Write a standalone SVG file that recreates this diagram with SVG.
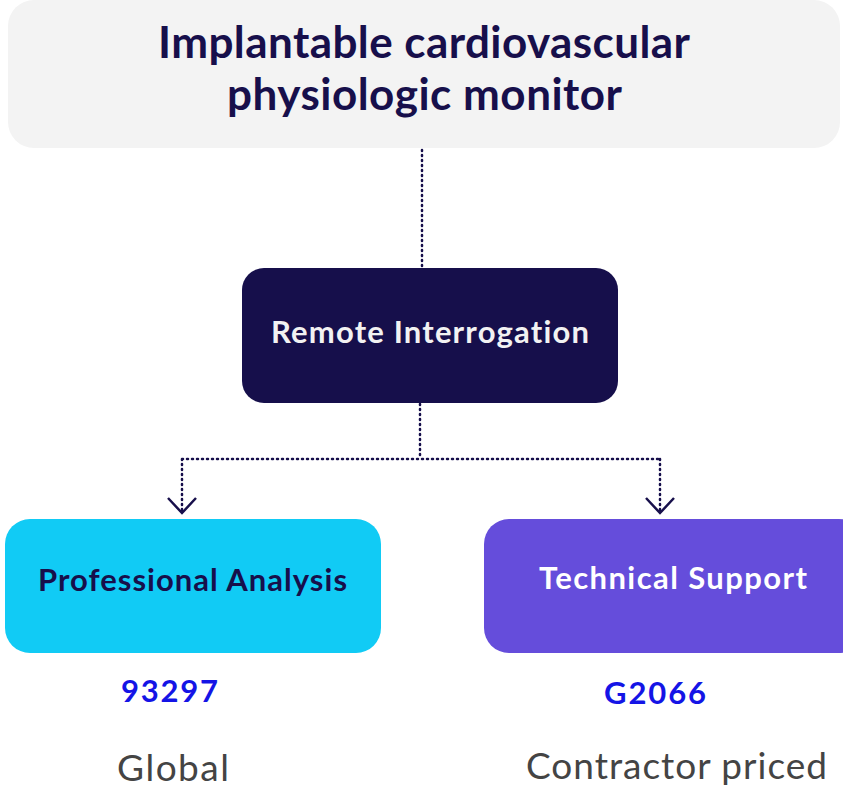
<svg xmlns="http://www.w3.org/2000/svg" width="843" height="789" viewBox="0 0 843 789">
  <defs>
    <style>
      .lbl { font-family: Lato, "Noto Sans", "Liberation Sans", sans-serif; text-anchor: middle; font-variant-ligatures: none; }
      .title { font-size: 44px; font-weight: 700; fill: #170f4b; }
      .node { font-size: 31px; font-weight: 700; }
      .code { font-size: 31px; font-weight: 700; fill: #1414e6; }
      .note { font-size: 37px; font-weight: 400; fill: #444444; }
      .link { fill: none; stroke: #170f4b; stroke-width: 2.5; stroke-dasharray: 1 4; stroke-linecap: round; }
      .head { fill: none; stroke: #170f4b; stroke-width: 2.5; }
    </style>
  </defs>

  <rect width="843" height="789" fill="#ffffff"/>

  <!-- connectors -->
  <g id="connectors">
    <path class="link" d="M422 150 V268"/>
    <path class="link" d="M420 404 V459 M182 459 H660 M182 459 V512 M660 459 V512"/>
    <path class="head" d="M168 498 L182 513 L196 498"/>
    <path class="head" d="M646 498 L660 513 L674 498"/>
  </g>

  <g id="node-monitor">
    <rect x="8" y="0" width="832" height="148" rx="26" fill="#f3f3f3"/>
    <text class="lbl title" x="424" y="58" textLength="532">Implantable cardiovascular</text>
    <text class="lbl title" x="424.5" y="110" textLength="395">physiologic monitor</text>
  </g>

  <g id="node-remote">
    <rect x="242" y="268" width="376" height="135" rx="22" fill="#160f4b"/>
    <text class="lbl node" x="430" y="343" fill="#f2f2f2" textLength="318">Remote Interrogation</text>
  </g>

  <g id="node-professional">
    <rect x="5" y="519" width="376" height="134" rx="25" fill="#11cbf5"/>
    <text class="lbl node" x="192.5" y="591" fill="#170f4b" textLength="309">Professional Analysis</text>
    <text class="lbl code" x="169.5" y="702" textLength="97">93297</text>
    <text class="lbl note" x="173" y="781" textLength="112">Global</text>
  </g>

  <g id="node-technical">
    <rect x="484" y="519" width="380" height="134" rx="25" fill="#654ddb"/>
    <text class="lbl node" x="673" y="589" fill="#ffffff" textLength="268">Technical Support</text>
    <text class="lbl code" x="655" y="704" textLength="102">G2066</text>
    <text class="lbl note" x="676.5" y="779" textLength="301">Contractor priced</text>
  </g>
</svg>
